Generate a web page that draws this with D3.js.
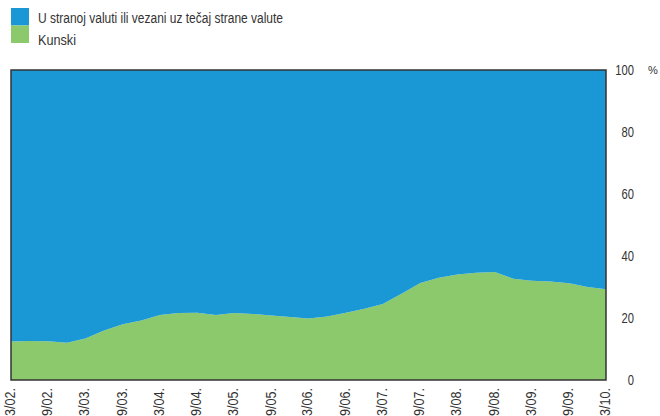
<!DOCTYPE html>
<html><head><meta charset="utf-8">
<script src="https://cdn.jsdelivr.net/npm/d3@7"></script>
<style>
html,body{margin:0;padding:0;background:#fff;}
svg text{font-family:"Liberation Sans",Arial,sans-serif;fill:#333;}
</style></head>
<body>
<svg id="chart" width="660" height="416"></svg>
<script>
// Quarterly dates, March 2002 – March 2010
const dates = ["2002-03","2002-06","2002-09","2002-12","2003-03","2003-06","2003-09","2003-12",
  "2004-03","2004-06","2004-09","2004-12","2005-03","2005-06","2005-09","2005-12",
  "2006-03","2006-06","2006-09","2006-12","2007-03","2007-06","2007-09","2007-12",
  "2008-03","2008-06","2008-09","2008-12","2009-03","2009-06","2009-09","2009-12","2010-03"];
// Share of kuna (%)
const kunski = [12.4,12.6,12.5,12.0,13.4,16.0,18.0,19.2,21.0,21.6,21.7,21.0,21.6,21.3,20.8,20.3,
  19.8,20.5,21.7,23.0,24.5,27.8,31.3,33.0,34.0,34.6,34.8,32.7,32.0,31.8,31.2,30.0,29.3];
// Share in foreign currency or indexed to foreign currency (%)
const devizni = kunski.map(v => 100 - v);
const seriesNames = ["U stranoj valuti ili vezani uz tečaj strane valute","Kunski"];
const yTicks = [0,20,40,60,80,100];
const xTickDates = ["2002-03","2002-09","2003-03","2003-09","2004-03","2004-09","2005-03","2005-09",
  "2006-03","2006-09","2007-03","2007-09","2008-03","2008-09","2009-03","2009-09","2010-03"];

const colors = {blue:"#1a98d6", green:"#8bc96c"};
const parse = d3.timeParse("%Y-%m");
const data = dates.map((d,i)=>({date:parse(d), kunski:kunski[i], devizni:devizni[i]}));

const svg = d3.select("#chart");
const m = {left:11, right:606, top:70, bottom:380};
const x = d3.scaleTime().domain(d3.extent(data,d=>d.date)).range([m.left,m.right]);
const y = d3.scaleLinear().domain([0,100]).range([m.bottom,m.top]);

const stack = d3.stack().keys(["kunski","devizni"]);
const layers = stack(data);
const area = d3.area().x(d=>x(d.data.date)).y0(d=>y(d[0])).y1(d=>y(d[1]));
svg.append("g").selectAll("path").data(layers).join("path")
  .attr("d",area)
  .attr("fill",(d,i)=> i===0 ? colors.green : colors.blue);

// frame
svg.append("rect").attr("x",m.left).attr("y",m.top)
  .attr("width",m.right-m.left).attr("height",m.bottom-m.top)
  .attr("fill","none").attr("stroke","#333").attr("stroke-width",1.5);

const SX = 0.8; // condensed look
// right y-axis labels
const yAxis = d3.axisRight(y).tickValues(yTicks).tickSize(0).tickPadding(0).tickFormat(d3.format("d"));
const yg = svg.append("g").attr("transform",`translate(634,0)`).call(yAxis);
yg.select(".domain").remove();
yg.selectAll("text").attr("text-anchor","end").attr("font-size",14).attr("dy","0.35em").attr("x",0)
  .attr("transform",`scale(${SX},1)`).attr("fill","#333");
svg.append("text").attr("x",648).attr("y",y(100)).attr("dy","0.35em").attr("font-size",11).text("%");

// x-axis labels
const fmt = d => (d.getMonth()+1) + "/" + d3.timeFormat("%y")(d) + ".";
const xAxis = d3.axisBottom(x).tickValues(xTickDates.map(parse)).tickSize(0).tickPadding(0).tickFormat(fmt);
const xg = svg.append("g").call(xAxis);
xg.select(".domain").remove();
xg.selectAll("text").attr("transform",`rotate(-90) scale(0.9,1)`).attr("text-anchor","end")
  .attr("x",0).attr("y",0).attr("dx",0).attr("dy","0.35em").attr("font-size",14).attr("fill","#333");
xg.selectAll(".tick").attr("transform",function(d){
  return `translate(${x(d)-1},${m.bottom+8})`;
});

// legend
const leg = svg.append("g");
const legColors = [colors.blue, colors.green];
const legLen = [245, 38];
seriesNames.forEach((n,i)=>{
  leg.append("rect").attr("x",11).attr("y",8+i*17.5).attr("width",18).attr("height",17.5).attr("fill",legColors[i]);
  leg.append("text").attr("x",38).attr("y",18+i*22).attr("dy","0.35em").attr("font-size",14)
    .attr("textLength",legLen[i]).attr("lengthAdjust","spacingAndGlyphs").text(n);
});
</script>
</body></html>
